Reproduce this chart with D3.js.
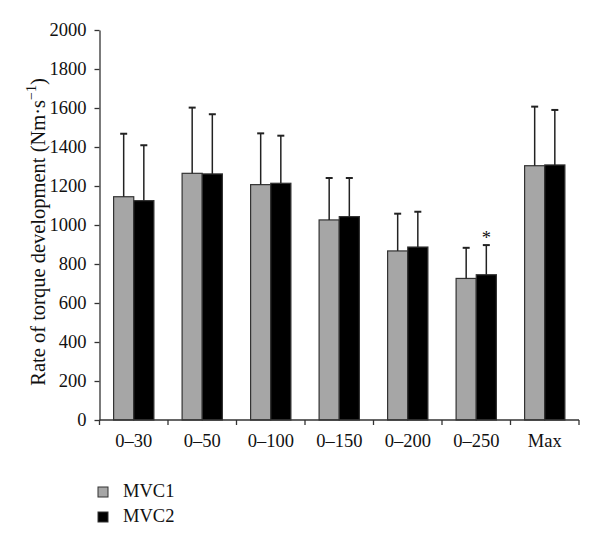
<!DOCTYPE html>
<html>
<head>
<meta charset="utf-8">
<script src="https://cdn.jsdelivr.net/npm/d3@7"></script>
<style>
  html, body { margin: 0; padding: 0; background: #fff; }
  svg { display: block; }
  text { font-family: "Liberation Serif", "Times New Roman", serif; fill: #111; }
</style>
</head>
<body>
<svg id="chart" width="600" height="549"></svg>
<script>
const categories = ["0\u201330", "0\u201350", "0\u2013100", "0\u2013150", "0\u2013200", "0\u2013250", "Max"];
const seriesNames = ["MVC1", "MVC2"];
const mvc1Mean = [1145, 1265, 1207, 1026, 867, 726, 1304];
const mvc1SD   = [323, 337, 263, 215, 191, 157, 303];
const mvc2Mean = [1125, 1262, 1214, 1043, 887, 745, 1308];
const mvc2SD   = [284, 306, 244, 198, 181, 152, 282];
const yTicks = [0, 200, 400, 600, 800, 1000, 1200, 1400, 1600, 1800, 2000];
const significant = [{cat: "0\u2013250", series: "MVC2", label: "*"}];

(function () {
const FS = 18.5;
const colors = {MVC1: "#a6a6a6", MVC2: "#000000"};
const data = categories.map((c, i) => ({
  cat: c,
  values: [
    {series: "MVC1", mean: mvc1Mean[i], sd: mvc1SD[i]},
    {series: "MVC2", mean: mvc2Mean[i], sd: mvc2SD[i]}
  ]
}));

const svg = d3.select("#chart");
const mLeft = 99.5, mRight = 579, mTop = 30, mBottom = 420;

const x = d3.scaleBand().domain(categories).range([mLeft, mRight]).padding(0);
const xi = d3.scaleBand().domain(seriesNames).range([0, x.bandwidth()]).paddingInner(0).paddingOuter(0.7);
const y = d3.scaleLinear().domain([0, 2000]).range([mBottom, mTop]);

const g = svg.append("g");
const groups = g.selectAll("g.grp").data(data).join("g").attr("class", "grp")
  .attr("transform", d => `translate(${x(d.cat)},0)`);

groups.selectAll("rect").data(d => d.values).join("rect")
  .attr("x", d => xi(d.series))
  .attr("y", d => y(d.mean))
  .attr("width", xi.bandwidth())
  .attr("height", d => y(0) - y(d.mean))
  .attr("fill", d => colors[d.series])
  .attr("stroke", "#333")
  .attr("stroke-width", 1.2);

const eb = groups.selectAll("g.eb").data(d => d.values).join("g").attr("class", "eb");
eb.append("line")
  .attr("x1", d => xi(d.series) + xi.bandwidth() / 2)
  .attr("x2", d => xi(d.series) + xi.bandwidth() / 2)
  .attr("y1", d => y(d.mean))
  .attr("y2", d => y(d.mean + d.sd))
  .attr("stroke", "#222").attr("stroke-width", 1.5);
eb.append("line")
  .attr("x1", d => xi(d.series) + xi.bandwidth() / 2 - 3.5)
  .attr("x2", d => xi(d.series) + xi.bandwidth() / 2 + 3.5)
  .attr("y1", d => y(d.mean + d.sd))
  .attr("y2", d => y(d.mean + d.sd))
  .attr("stroke", "#222").attr("stroke-width", 2);

significant.forEach(s => {
  const i = categories.indexOf(s.cat);
  const v = s.series === "MVC1" ? mvc1Mean[i] + mvc1SD[i] : mvc2Mean[i] + mvc2SD[i];
  svg.append("text")
    .attr("x", x(s.cat) + xi(s.series) + xi.bandwidth() / 2)
    .attr("y", y(v) - 1.5)
    .attr("text-anchor", "middle")
    .attr("font-size", FS)
    .text(s.label);
});

const yAxis = d3.axisLeft(y).tickValues(yTicks).tickFormat(d3.format("d"))
  .tickSize(5).tickSizeOuter(0).tickPadding(8);
const ya = svg.append("g").attr("transform", `translate(${mLeft},0)`).call(yAxis);
ya.selectAll("text").attr("font-size", FS).attr("font-family", "Liberation Serif, serif").attr("fill", "#111");
ya.selectAll("line, path").attr("stroke", "#333").attr("stroke-width", 1.3);

const xa = svg.append("g").attr("transform", `translate(0,${mBottom})`);
xa.append("line").attr("x1", mLeft).attr("x2", mRight).attr("y1", 0).attr("y2", 0)
  .attr("stroke", "#333").attr("stroke-width", 1.3);
const bounds = categories.map(c => x(c)).concat([x.range()[1]]);
xa.selectAll("line.tk").data(bounds).join("line").attr("class", "tk")
  .attr("x1", d => d).attr("x2", d => d).attr("y1", 0).attr("y2", 5)
  .attr("stroke", "#333").attr("stroke-width", 1.3);
xa.selectAll("text").data(categories).join("text")
  .attr("x", d => x(d) + x.bandwidth() / 2)
  .attr("y", 27)
  .attr("text-anchor", "middle")
  .attr("font-size", FS)
  .text(d => d);

const title = svg.append("text")
  .attr("transform", `translate(45,232) rotate(-90)`)
  .attr("text-anchor", "middle")
  .attr("font-size", 20.5);
title.append("tspan").text("Rate of torque development (Nm\u00b7s");
title.append("tspan").attr("dy", -9).attr("font-size", 14).text("\u22121");
title.append("tspan").attr("dy", 9).text(")");

const lg = svg.append("g").selectAll("g").data(seriesNames).join("g")
  .attr("transform", (d, i) => `translate(98,${487 + i * 25})`);
lg.append("rect").attr("width", 10).attr("height", 10)
  .attr("fill", d => colors[d]).attr("stroke", "#333").attr("stroke-width", 1);
lg.append("text").attr("x", 25).attr("y", 10).attr("font-size", FS).text(d => d);
})();
</script>
</body>
</html>
